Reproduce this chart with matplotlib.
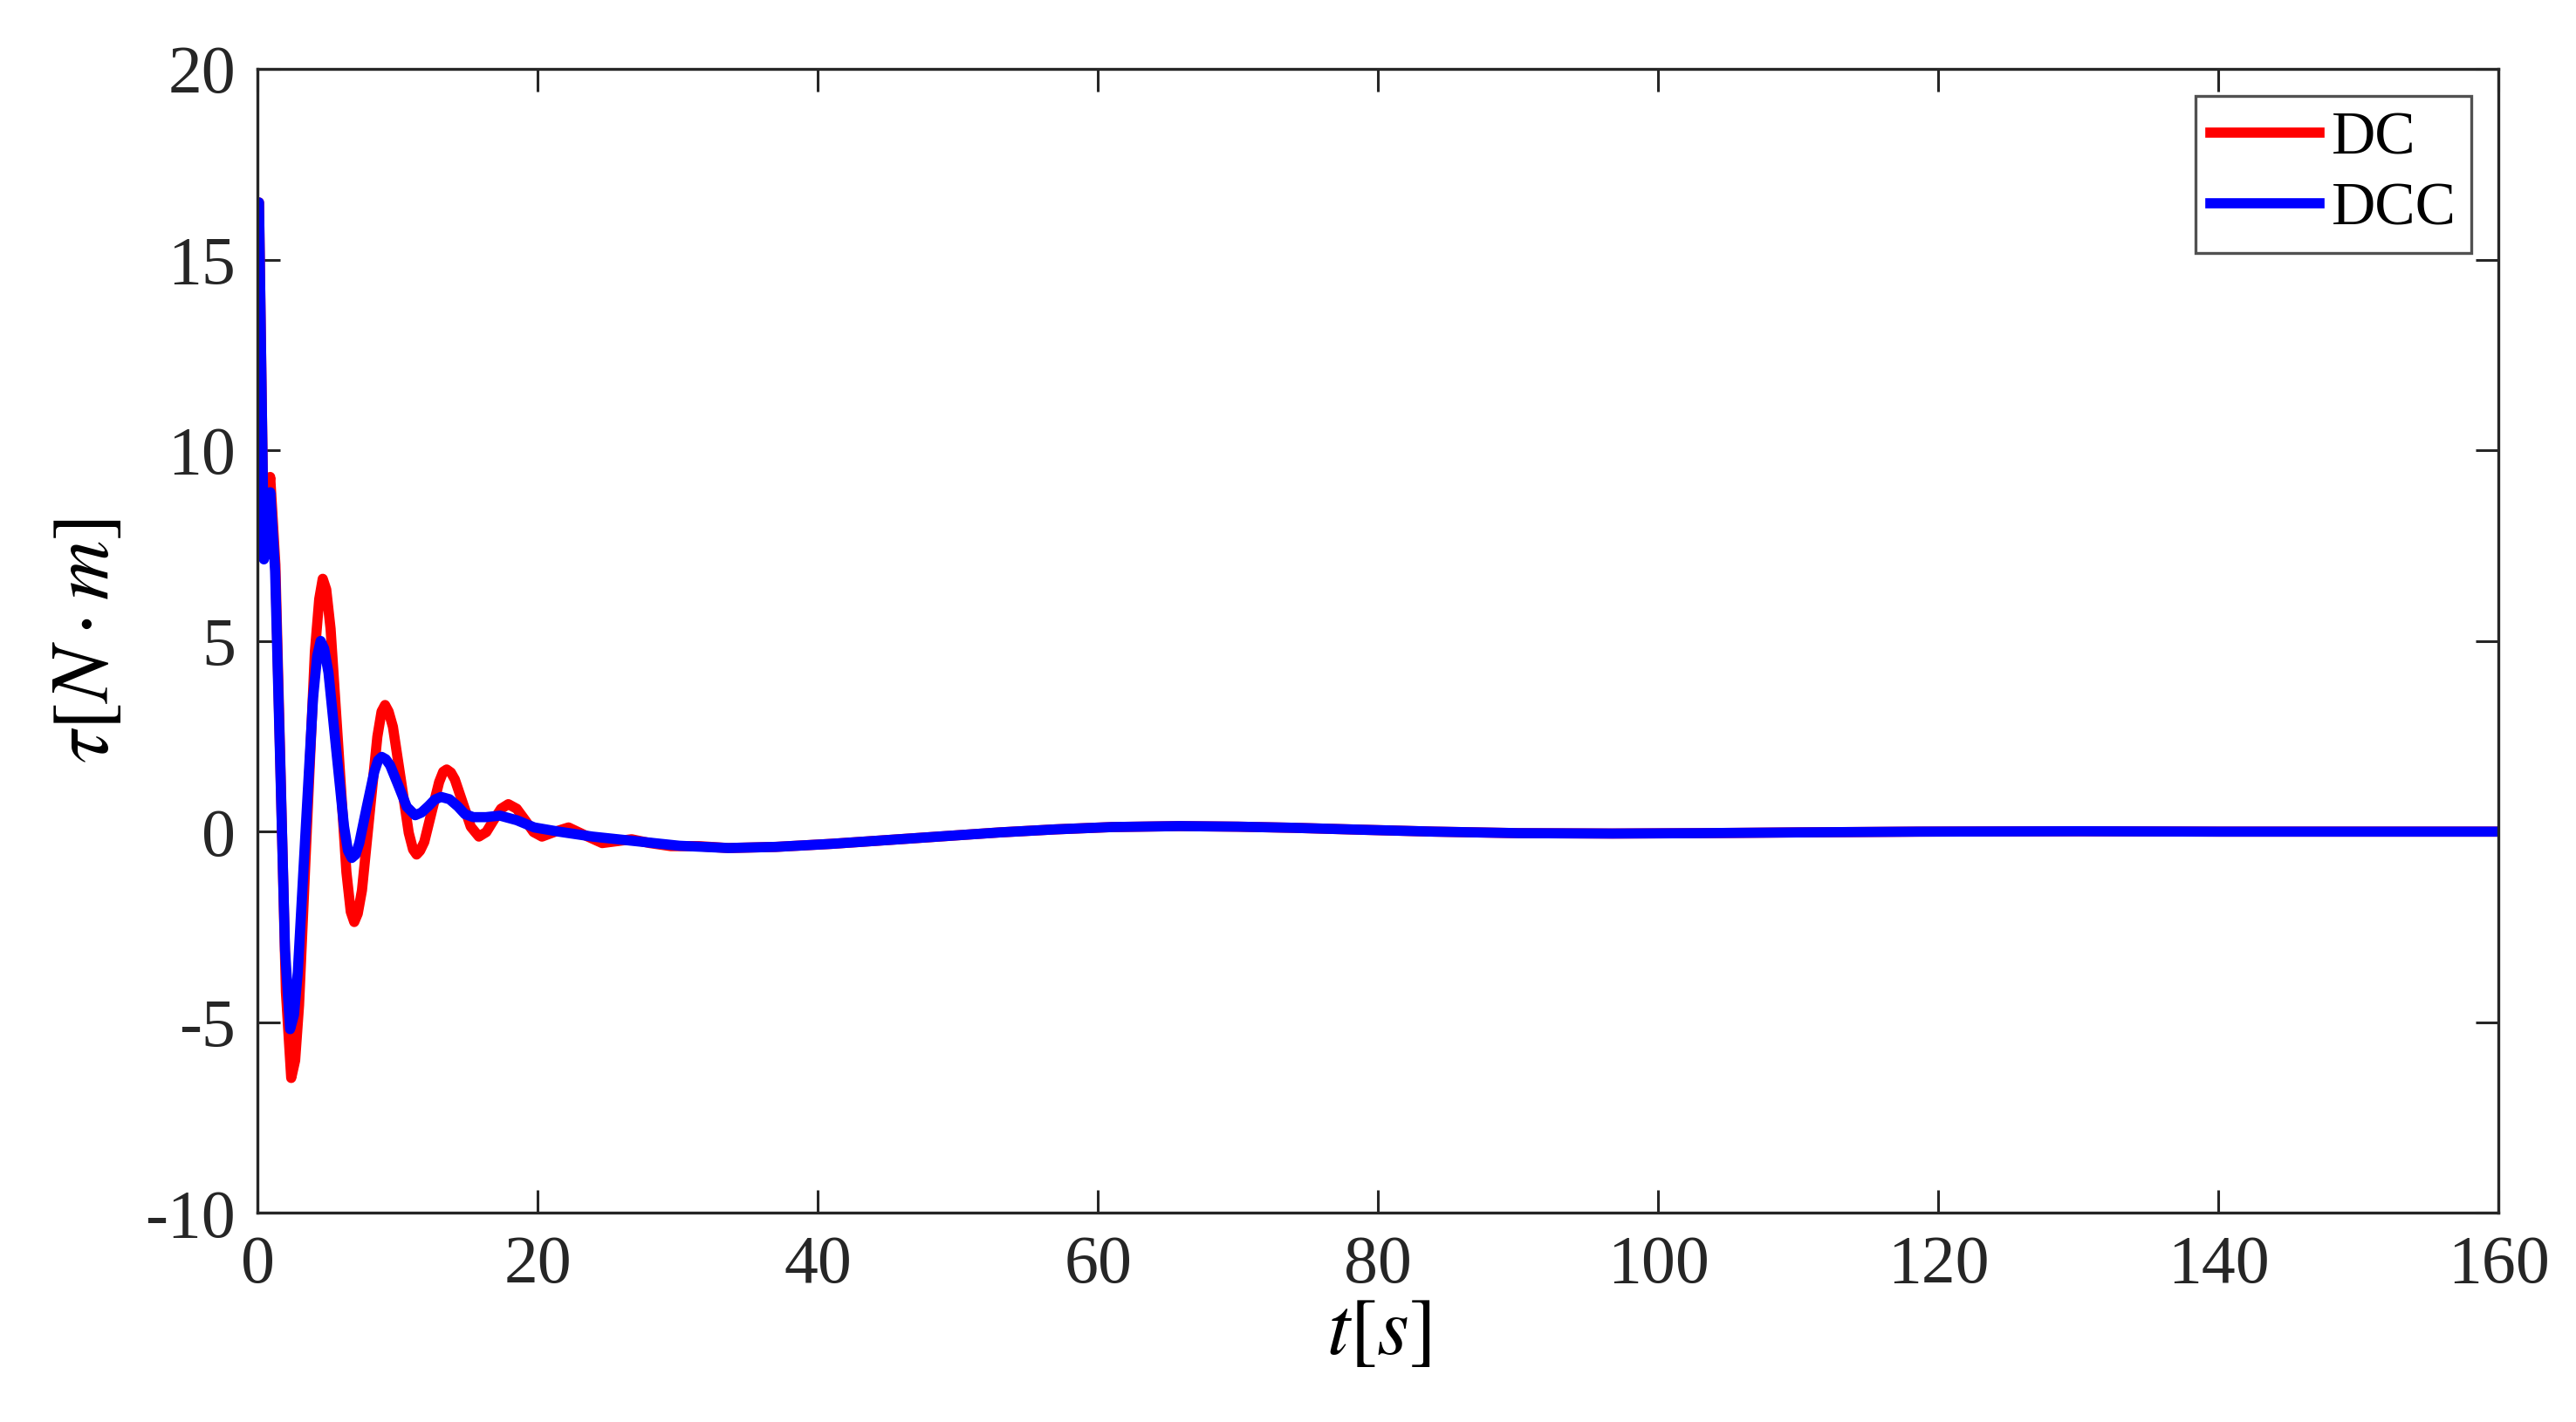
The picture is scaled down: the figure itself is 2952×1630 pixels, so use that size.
import numpy as np
import matplotlib
matplotlib.use('Agg')
import matplotlib.pyplot as plt

plt.rcParams['font.family'] = 'Liberation Serif'
plt.rcParams['mathtext.fontset'] = 'stix'
plt.rcParams['axes.unicode_minus'] = False

# DC response (red)
t_dc = [0, 0.1, 0.45, 0.7, 0.9, 1.27, 1.65, 2.02, 2.4, 2.68, 2.96, 3.52, 4.09, 4.4, 4.65,
        4.9, 5.21, 5.78, 6.34, 6.65, 6.9, 7.15, 7.45, 8.0, 8.55, 8.85, 9.1, 9.35, 9.66, 10.23, 10.79, 11.1, 11.35,
        11.6, 11.9, 12.43, 12.96, 13.25, 13.5, 13.8, 14.08, 14.65, 15.22, 15.8, 16.33, 16.85, 17.38,
        17.9, 18.5, 19.1, 19.7, 20.3, 21.25, 22.2, 23.4, 24.6, 25.65, 26.7, 28.0,
        29.5, 31.5, 33.6, 37, 41, 45, 49, 53, 57, 61, 65.8, 70, 74, 78.8, 84, 90,
        96.7, 103, 110, 118.6, 130, 140, 150, 160]
tau_dc = [16.5, 16.5, 7.2, 8.6, 9.3, 7.0, 1.4, -4.2, -6.46, -6.0, -4.55, 0.09, 4.72, 6.1, 6.63,
          6.35, 5.32, 2.13, -1.06, -2.1, -2.37, -2.15, -1.54, 0.48, 2.49, 3.15, 3.32, 3.15, 2.75, 1.36, -0.03, -0.47, -0.6,
          -0.5, -0.27, 0.52, 1.30, 1.57, 1.63, 1.55, 1.37, 0.75, 0.13, -0.13, -0.01, 0.30, 0.60,
          0.72, 0.6, 0.3, -0.01, -0.13, 0.0, 0.11, -0.1, -0.3, -0.25, -0.2, -0.3,
          -0.38, -0.38, -0.43, -0.4, -0.32, -0.22, -0.12, -0.02, 0.06, 0.12, 0.145, 0.13, 0.1, 0.05, 0.0, -0.04,
          -0.05, -0.04, -0.02, 0.0, 0.01, 0.0, 0.0, 0.0]

# DCC response (blue)
t_dcc = [0, 0.1, 0.45, 0.7, 0.9, 1.25, 1.61, 1.96, 2.32, 2.6, 2.87, 3.41, 3.96, 4.25, 4.5,
         4.75, 5.06, 5.61, 6.17, 6.45, 6.72, 7.0, 7.26, 7.79, 8.33, 8.6, 8.86, 9.15, 9.46, 10.06, 10.65, 11.25,
         11.7, 12.2, 12.65, 13.1, 13.7, 14.3, 14.8, 15.4, 16.3, 17.3, 18.5, 19.75,
         21.5, 23.9, 27, 30.1, 33.6, 37, 41, 45, 49, 53, 57, 61, 65.8, 70, 74, 78.8,
         84, 90, 96.7, 103, 110, 118.6, 130, 140, 150, 160]
tau_dcc = [16.5, 16.5, 7.14, 8.4, 8.9, 6.84, 1.86, -3.12, -5.18, -4.8, -3.69, -0.09, 3.51, 4.6, 5.0,
           4.8, 4.17, 2.16, 0.14, -0.5, -0.69, -0.6, -0.30, 0.64, 1.57, 1.87, 1.96, 1.9, 1.74, 1.2, 0.65, 0.43,
           0.5, 0.67, 0.84, 0.91, 0.85, 0.66, 0.46, 0.38, 0.38, 0.42, 0.3, 0.11,
           0.0, -0.13, -0.25, -0.37, -0.43, -0.4, -0.32, -0.22, -0.12, -0.02, 0.06, 0.12, 0.145, 0.13, 0.1, 0.05,
           0.0, -0.04, -0.05, -0.04, -0.02, 0.0, 0.01, 0.0, 0.0, 0.0]

xticks = [0, 20, 40, 60, 80, 100, 120, 140, 160]
yticks = [-10, -5, 0, 5, 10, 15, 20]

fig = plt.figure(figsize=(14.76, 8.15), dpi=200)
ax = fig.add_axes([0.1, 0.147, 0.870, 0.8045])

ax.plot(t_dc, tau_dc, color='red', lw=4.2, label='DC', solid_joinstyle='round')
ax.plot(t_dcc, tau_dcc, color='blue', lw=4.2, label='DCC', solid_joinstyle='round')

ax.set_xlim(0, 160)
ax.set_ylim(-10, 20)
ax.set_xticks(xticks)
ax.set_yticks(yticks)
ax.tick_params(direction='in', length=9.5, width=1.1, labelsize=28, colors='#262626',
               top=True, right=True, pad=9)
for sp in ax.spines.values():
    sp.set_linewidth(1.2)
    sp.set_color('#262626')

ax.set_xlabel(r'$t[s]$', fontsize=34, labelpad=0)
ax.set_ylabel(r'$\tau[N\cdot m]$', fontsize=34, labelpad=8)

leg = ax.legend(loc='upper right', fontsize=25, frameon=True, fancybox=False,
                handlelength=1.8, handletextpad=0.2, borderpad=0.25,
                labelspacing=0.25, borderaxespad=0.45)
leg.get_frame().set_edgecolor('#262626')
leg.get_frame().set_linewidth(1.2)

fig.savefig('out.png', dpi=200)
